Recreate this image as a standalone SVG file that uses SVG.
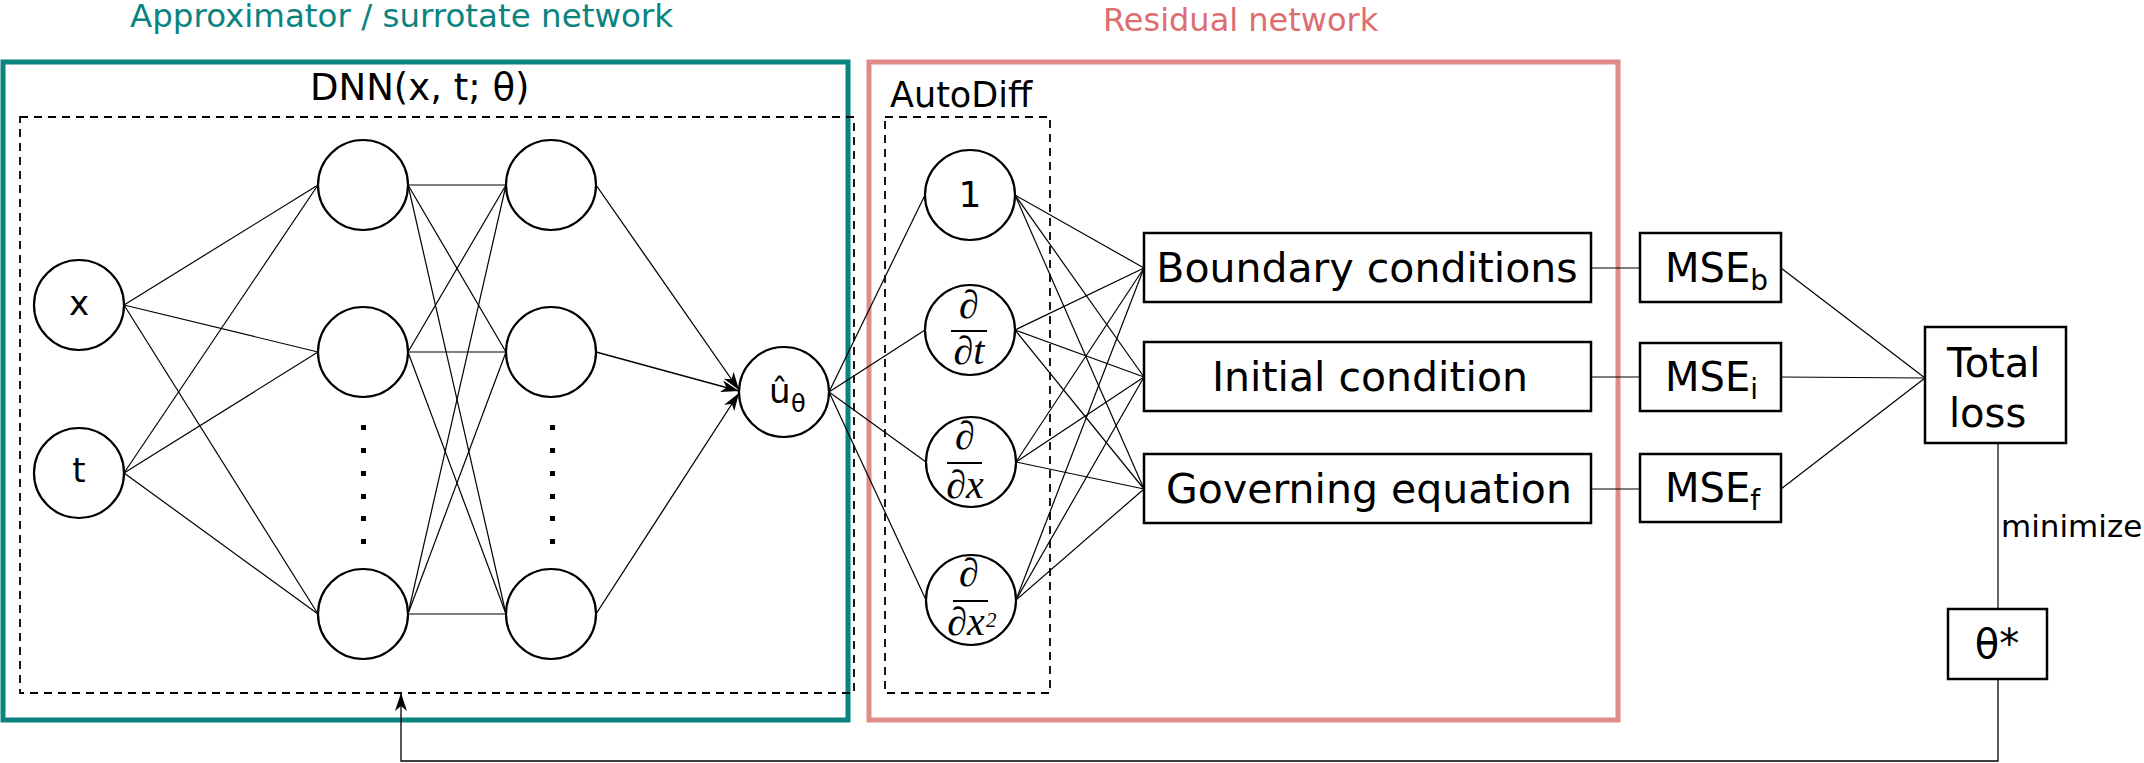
<svg xmlns="http://www.w3.org/2000/svg" width="2144" height="763" viewBox="0 0 2144 763">
<defs>
<style>
.sans{font-family:"DejaVu Sans","Liberation Sans",sans-serif;fill:#000}
.serif{font-family:"Liberation Serif","DejaVu Serif",serif;font-style:italic;fill:#000}
.node{fill:#fff;stroke:#000;stroke-width:2.2}
.box{fill:#fff;stroke:#000;stroke-width:2.5}
.dash{fill:none;stroke:#000;stroke-width:1.8;stroke-dasharray:8 6}
.edge{fill:none;stroke:#000;stroke-width:1.2}
.arr{fill:none;stroke:#000;stroke-width:1.3;marker-end:url(#ah)}
.bar{stroke:#000;stroke-width:2.2}
</style>
<marker id="ah" markerUnits="userSpaceOnUse" markerWidth="20" markerHeight="14" refX="18" refY="7" orient="auto">
<path d="M0,1 L18,7 L0,13 L5,7 Z" fill="#000"/>
</marker>
</defs>
<rect width="2144" height="763" fill="#fff"/>

<g id="containers">
<rect x="3" y="62" width="845" height="658" fill="none" stroke="#0B8380" stroke-width="5"/>
<rect x="869" y="62" width="749" height="658" fill="none" stroke="#E08A8A" stroke-width="5"/>
<rect class="dash" x="20" y="117" width="834" height="576"/>
<rect class="dash" x="885" y="117" width="165" height="576"/>
<text class="sans" x="130" y="27" font-size="32.5" style="fill:#0B8380">Approximator / surrotate network</text>
<text class="sans" x="1103" y="31" font-size="32" style="fill:#DC6E70">Residual network</text>
<text class="sans" x="310" y="100" font-size="37">DNN(x, t; θ)</text>
<text class="sans" x="890" y="107" font-size="35">AutoDiff</text>
</g>

<g id="connectors">
<line class="edge" x1="124" y1="305" x2="318" y2="185"/>
<line class="edge" x1="124" y1="305" x2="318" y2="352"/>
<line class="edge" x1="124" y1="305" x2="318" y2="614"/>
<line class="edge" x1="124" y1="473" x2="318" y2="185"/>
<line class="edge" x1="124" y1="473" x2="318" y2="352"/>
<line class="edge" x1="124" y1="473" x2="318" y2="614"/>
<line class="edge" x1="408" y1="185" x2="506" y2="185"/>
<line class="edge" x1="408" y1="185" x2="506" y2="352"/>
<line class="edge" x1="408" y1="185" x2="506" y2="614"/>
<line class="edge" x1="408" y1="352" x2="506" y2="185"/>
<line class="edge" x1="408" y1="352" x2="506" y2="352"/>
<line class="edge" x1="408" y1="352" x2="506" y2="614"/>
<line class="edge" x1="408" y1="614" x2="506" y2="185"/>
<line class="edge" x1="408" y1="614" x2="506" y2="352"/>
<line class="edge" x1="408" y1="614" x2="506" y2="614"/>
<line class="arr" x1="596" y1="185" x2="739" y2="390"/>
<line class="arr" x1="596" y1="352" x2="739" y2="391"/>
<line class="arr" x1="596" y1="614" x2="739" y2="393"/>
<line class="edge" x1="829" y1="392" x2="925" y2="195"/>
<line class="edge" x1="829" y1="392" x2="925" y2="330"/>
<line class="edge" x1="829" y1="392" x2="926" y2="462"/>
<line class="edge" x1="829" y1="392" x2="926" y2="600"/>
<line class="edge" x1="1015" y1="195" x2="1144" y2="268"/>
<line class="edge" x1="1015" y1="195" x2="1144" y2="377"/>
<line class="edge" x1="1015" y1="195" x2="1144" y2="489"/>
<line class="edge" x1="1015" y1="330" x2="1144" y2="268"/>
<line class="edge" x1="1015" y1="330" x2="1144" y2="377"/>
<line class="edge" x1="1015" y1="330" x2="1144" y2="489"/>
<line class="edge" x1="1016" y1="462" x2="1144" y2="268"/>
<line class="edge" x1="1016" y1="462" x2="1144" y2="377"/>
<line class="edge" x1="1016" y1="462" x2="1144" y2="489"/>
<line class="edge" x1="1016" y1="600" x2="1144" y2="268"/>
<line class="edge" x1="1016" y1="600" x2="1144" y2="377"/>
<line class="edge" x1="1016" y1="600" x2="1144" y2="489"/>
<line class="edge" x1="1591" y1="268" x2="1640" y2="268"/>
<line class="edge" x1="1591" y1="377" x2="1640" y2="377"/>
<line class="edge" x1="1591" y1="489" x2="1640" y2="489"/>
<line class="edge" x1="1781" y1="268" x2="1925" y2="378"/>
<line class="edge" x1="1781" y1="377" x2="1925" y2="378"/>
<line class="edge" x1="1781" y1="489" x2="1925" y2="378"/>
<line class="edge" x1="1998" y1="443" x2="1998" y2="609" stroke-width="1.5"/>
<path class="arr" d="M1998,679 V761 H401 V693" stroke-width="1.5"/>
</g>

<g id="node-x"><circle class="node" cx="79" cy="305" r="45"/><text class="sans" x="79" y="315" font-size="34" text-anchor="middle">x</text></g>
<g id="node-t"><circle class="node" cx="79" cy="473" r="45"/><text class="sans" x="79" y="482" font-size="34" text-anchor="middle">t</text></g>
<g id="h1-1"><circle class="node" cx="363" cy="185" r="45"/></g>
<g id="h1-2"><circle class="node" cx="363" cy="352" r="45"/></g>
<g id="h1-3"><circle class="node" cx="363" cy="614" r="45"/></g>
<g id="h2-1"><circle class="node" cx="551" cy="185" r="45"/></g>
<g id="h2-2"><circle class="node" cx="551" cy="352" r="45"/></g>
<g id="h2-3"><circle class="node" cx="551" cy="614" r="45"/></g>
<g id="dots" fill="#000">
<rect x="361" y="425" width="5" height="5"/><rect x="361" y="448" width="5" height="5"/><rect x="361" y="471" width="5" height="5"/><rect x="361" y="494" width="5" height="5"/><rect x="361" y="516" width="5" height="5"/><rect x="361" y="539" width="5" height="5"/>
<rect x="550" y="425" width="5" height="5"/><rect x="550" y="448" width="5" height="5"/><rect x="550" y="471" width="5" height="5"/><rect x="550" y="494" width="5" height="5"/><rect x="550" y="516" width="5" height="5"/><rect x="550" y="539" width="5" height="5"/>
</g>
<g id="node-u"><circle class="node" cx="784" cy="392" r="45"/><text class="sans" x="769" y="403" font-size="34">û</text><text class="sans" x="791" y="412" font-size="24">θ</text></g>

<g id="ad-1"><circle class="node" cx="970" cy="195" r="45"/><text class="sans" x="970" y="207" font-size="36" text-anchor="middle">1</text></g>
<g id="ad-dt"><circle class="node" cx="970" cy="330" r="45"/><text class="serif" x="969" y="318" font-size="40" text-anchor="middle">∂</text><line class="bar" x1="951" y1="331" x2="987" y2="331"/><text class="serif" x="969" y="364" font-size="40" text-anchor="middle">∂t</text></g>
<g id="ad-dx"><circle class="node" cx="971" cy="462" r="45"/><text class="serif" x="965" y="449" font-size="40" text-anchor="middle">∂</text><line class="bar" x1="947" y1="463" x2="982" y2="463"/><text class="serif" x="965" y="498" font-size="40" text-anchor="middle">∂x</text></g>
<g id="ad-dx2"><circle class="node" cx="971" cy="600" r="45"/><text class="serif" x="969" y="586" font-size="40" text-anchor="middle">∂</text><line class="bar" x1="953" y1="601" x2="988" y2="601"/><text class="serif" x="966" y="635" font-size="40" text-anchor="middle">∂x</text><text class="serif" x="986" y="627" font-size="21">2</text></g>

<g id="box-bc"><rect class="box" x="1144" y="233" width="447" height="69"/><text class="sans" x="1367" y="282" font-size="41" text-anchor="middle">Boundary conditions</text></g>
<g id="box-ic"><rect class="box" x="1144" y="342" width="447" height="69"/><text class="sans" x="1370" y="391" font-size="41" text-anchor="middle">Initial condition</text></g>
<g id="box-ge"><rect class="box" x="1144" y="454" width="447" height="69"/><text class="sans" x="1369" y="503" font-size="41" text-anchor="middle">Governing equation</text></g>

<g id="mse-b"><rect class="box" x="1640" y="233" width="141" height="69"/><text class="sans" x="1665" y="282" font-size="40">MSE<tspan font-size="28" dy="8">b</tspan></text></g>
<g id="mse-i"><rect class="box" x="1640" y="343" width="141" height="68"/><text class="sans" x="1665" y="391" font-size="40">MSE<tspan font-size="28" dy="8">i</tspan></text></g>
<g id="mse-f"><rect class="box" x="1640" y="454" width="141" height="68"/><text class="sans" x="1665" y="502" font-size="40">MSE<tspan font-size="28" dy="8">f</tspan></text></g>

<g id="total-loss"><rect class="box" x="1925" y="327" width="141" height="116"/><text class="sans" x="1947" y="377" font-size="40">Total</text><text class="sans" x="1949" y="427" font-size="40">loss</text></g>
<g id="theta-star"><rect class="box" x="1948" y="609" width="99" height="70"/><text class="sans" x="1997" y="658" font-size="40" text-anchor="middle">θ*</text></g>
<text class="sans" x="2001" y="537" font-size="31">minimize</text>
</svg>
